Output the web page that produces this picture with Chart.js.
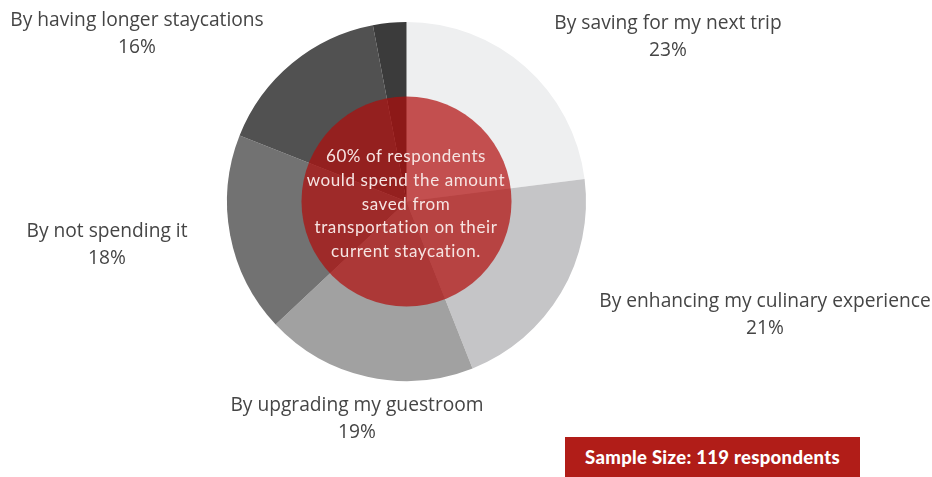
<!DOCTYPE html>
<html>
<head>
<meta charset="utf-8">
<script src="https://cdn.jsdelivr.net/npm/chart.js@4.4.0/dist/chart.umd.min.js"></script>
<style>
  body { margin: 0; background: #fff; }
  #wrap { position: relative; width: 932px; height: 477px; overflow: hidden; font-family: "Open Sans", sans-serif; }
  #wrap canvas { position: absolute; left: 0; top: 0; }
  .lbl { position: absolute; transform: translateX(-50%); text-align: center; color: #454545; font-size: 19.2px; line-height: 27px; white-space: nowrap; }
  #center { position: absolute; left: 406px; top: 144px; transform: translateX(-50%); text-align: center; color: #f6e4e2; font-family: Lato, sans-serif; font-size: 17px; line-height: 23.8px; letter-spacing: 0.6px; white-space: nowrap; }
  #sample { position: absolute; left: 565px; top: 437px; width: 295px; height: 40px; background: #b11d18; color: #fff; font-family: Lato, sans-serif; font-weight: 900; font-size: 18.5px; line-height: 40px; text-align: center; letter-spacing: 0.3px; }
</style>
</head>
<body>
<div id="wrap">
  <canvas id="pie" width="932" height="477"></canvas>
  <div class="lbl" style="left:668px; top:8px">By saving for my next trip<br>23%</div>
  <div class="lbl" style="left:765px; top:286px">By enhancing my culinary experience<br>21%</div>
  <div class="lbl" style="left:357px; top:390px">By upgrading my guestroom<br>19%</div>
  <div class="lbl" style="left:107px; top:216px">By not spending it<br>18%</div>
  <div class="lbl" style="left:137px; top:5px">By having longer staycations<br>16%</div>
  <div id="center">60% of respondents<br>would spend the amount<br>saved from<br>transportation on their<br>current staycation.</div>
  <div id="sample">Sample Size: 119 respondents</div>
</div>
<script>
// data
const labels = ['By saving for my next trip', 'By enhancing my culinary experience', 'By upgrading my guestroom', 'By not spending it', 'By having longer staycations', 'Other'];
const values = [23, 21, 19, 18, 16, 3];
const colors = ['#eeeff0', '#c5c5c7', '#a1a1a1', '#727272', '#515151', '#3b3b3b'];

// red disc on top of the pie
const centerDisc = {
    id: 'centerDisc',
    afterDatasetsDraw(chart) {
        const arc = chart.getDatasetMeta(0).data[0];
        const ctx = chart.ctx;
        ctx.save();
        ctx.beginPath();
        ctx.arc(arc.x, arc.y, arc.outerRadius * 0.585, 0, Math.PI * 2);
        ctx.fillStyle = 'rgba(176, 12, 10, 0.7)';
        ctx.fill();
        ctx.restore();
    }
};

const ctx = document.getElementById('pie').getContext('2d');
new Chart(ctx, {
    type: 'pie',
    data: {
        labels: labels,
        datasets: [{
            data: values,
            backgroundColor: colors,
            borderWidth: 0
        }]
    },
    options: {
        responsive: false,
        animation: false,
        layout: { padding: { left: 227, top: 22, right: 346, bottom: 96 } },
        plugins: {
            legend: { display: false },
            tooltip: { enabled: false }
        }
    },
    plugins: [centerDisc]
});
</script>
</body>
</html>
